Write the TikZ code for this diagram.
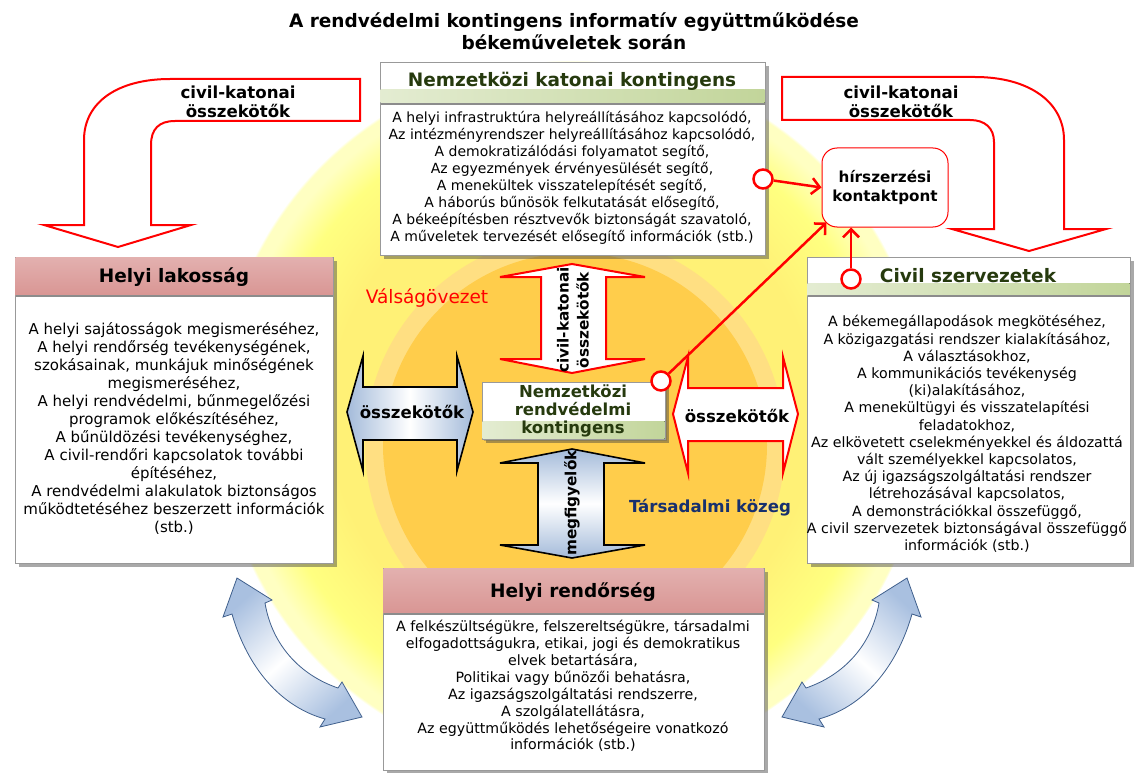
\documentclass[tikz,border=0pt]{standalone}
\usepackage{fontspec}
\setmainfont{DejaVu Sans}
\usetikzlibrary{shadows,arrows.meta}

\definecolor{redline}{HTML}{FF0000}
\definecolor{headgreen}{HTML}{C2D59A}
\definecolor{headpink}{HTML}{D99694}
\definecolor{textgreen}{HTML}{263A0E}
\definecolor{navytext}{HTML}{17306E}
\definecolor{arrowblue}{HTML}{A4BBDA}
\definecolor{curveblue}{HTML}{A9C0E0}
\definecolor{curveline}{HTML}{3F5F8C}
\definecolor{sunpale}{HTML}{FFFFC2}
\definecolor{sunlight}{HTML}{FFFF80}
\definecolor{sunyellow}{HTML}{FFF176}
\definecolor{sunring}{HTML}{FFDF82}
\definecolor{sunorange}{HTML}{FFCD4B}

\pgfdeclareradialshading{sunglow}{\pgfpoint{0bp}{0bp}}{%
  color(0bp)=(sunyellow); color(17bp)=(sunyellow); color(21.5bp)=(sunlight);
  color(24bp)=(sunpale); color(24.8bp)=(sunpale); color(25bp)=(white); color(50bp)=(white)}

\tikzset{
  panel/.style={draw=black!40, line width=0.8pt, fill=white,
    drop shadow={shadow xshift=4pt, shadow yshift=-4pt, fill=black!75, opacity=0.45}},
  greenband/.style={left color=headgreen!45!white, right color=headgreen},
  pinkband/.style={top color=headpink!75!white, bottom color=headpink},
  headtext/.style={font=\bfseries\fontsize{18.5}{21}\selectfont, inner sep=0pt},
  bodytext/.style={align=center, font=\fontsize{14}{17.1}\selectfont, inner sep=0pt},
  arrowtext/.style={align=center, font=\bfseries\fontsize{16.6}{19}\selectfont, inner sep=0pt},
  redarrow/.style={draw=redline, line width=2pt, fill=white, line join=miter},
  bluearrow/.style={draw=black, line width=1.6pt, line join=miter},
  curvearrow/.style={draw=curveline, line width=0.8pt},
  contact/.style={draw=redline, line width=1pt, fill=white, rounded corners=15pt,
    align=center, font=\bfseries\fontsize{15.2}{19}\selectfont},
  ring/.style={circle, draw=redline, line width=2.5pt, fill=white, minimum size=19pt, inner sep=0pt},
  redlink/.style={draw=redline, line width=2.5pt, -{Straight Barb[length=8pt,width=16pt]}}
}

\begin{document}
\begin{tikzpicture}[x=1pt, y=-1pt]
\useasboundingbox (0,0) rectangle (1135,773);

% glow behind the picture
\shade[shading=sunglow] (572,415) circle (355pt);
\fill[sunring] (575,445) circle (210pt);
\fill[sunorange] (575,445) circle (192pt);

% title
\node[align=center, font=\bfseries\fontsize{18.5}{22}\selectfont] (title) at (574,31)
  {A rendvédelmi kontingens informatív együttműködése\\békeműveletek során};

% bent arrows: civil-katonai összekötők
\draw[redarrow] (360,79) -- (170,79) .. controls (118,79) and (84,102) .. (84,140)
  -- (84,225) -- (44,225) -- (118,247) -- (191,225) -- (151,225) -- (151,145)
  .. controls (151,129) and (159,121) .. (175,121) -- (360,121) -- cycle;
\node[arrowtext] (cmleft) at (238,102) {civil-katonai\\összekötők};

\draw[redarrow] (782,77) -- (975,77) .. controls (1029,77) and (1064,102) .. (1064,140)
  -- (1064,229) -- (1106,229) -- (1029,251) -- (952,229) -- (994,229) -- (994,142)
  .. controls (994,128) and (985,120) .. (970,120) -- (782,120) -- cycle;
\node[arrowtext] (cmright) at (901,102) {civil-katonai\\összekötők};

% Nemzetközi katonai kontingens
\node[panel, minimum width=385pt, minimum height=193pt, anchor=north west] (katonai) at (380,62) {};
\fill[greenband] (380.5,90) rectangle (764.5,103);
\draw[black!45, line width=1.5pt] (380.5,104) -- (764.5,104);
\node[headtext, text=textgreen] (katonaihead) at (572,81) {Nemzetközi katonai kontingens};
\node[bodytext] (katonaitext) at (572,178) {A helyi infrastruktúra helyreállításához kapcsolódó,\\
  Az intézményrendszer helyreállításához kapcsolódó,\\
  A demokratizálódási folyamatot segítő,\\
  Az egyezmények érvényesülését segítő,\\
  A menekültek visszatelepítését segítő,\\
  A háborús bűnösök felkutatását elősegítő,\\
  A békeépítésben résztvevők biztonságát szavatoló,\\
  A műveletek tervezését elősegítő információk (stb.)};

% Helyi lakosság
\node[panel, minimum width=318pt, minimum height=306pt, anchor=north west] (lakos) at (15,257) {};
\fill[pinkband] (15.5,257.5) rectangle (332.5,295);
\draw[black!45, line width=1.5pt] (15.5,296) -- (332.5,296);
\node[headtext] (lakoshead) at (174,277) {Helyi lakosság};
\node[bodytext, font=\fontsize{15}{18}\selectfont] (lakostext) at (174,428) {A helyi sajátosságok megismeréséhez,\\
  A helyi rendőrség tevékenységének,\\
  szokásainak, munkájuk minőségének\\
  megismeréséhez,\\
  A helyi rendvédelmi, bűnmegelőzési\\
  programok előkészítéséhez,\\
  A bűnüldözési tevékenységhez,\\
  A civil-rendőri kapcsolatok további\\
  építéséhez,\\
  A rendvédelmi alakulatok biztonságos\\
  működtetéséhez beszerzett információk\\
  (stb.)};

% Civil szervezetek
\node[panel, minimum width=323pt, minimum height=306pt, anchor=north west] (civil) at (807,257) {};
\fill[greenband] (807.5,283) rectangle (1129.5,295);
\draw[black!45, line width=1.5pt] (807.5,296) -- (1129.5,296);
\node[headtext, text=textgreen] (civilhead) at (968,276) {Civil szervezetek};
\node[bodytext, font=\fontsize{14.2}{17.2}\selectfont] (civiltext) at (967,434) {A békemegállapodások megkötéséhez,\\
  A közigazgatási rendszer kialakításához,\\
  A választásokhoz,\\
  A kommunikációs tevékenység\\
  (ki)alakításához,\\
  A menekültügyi és visszatelapítési\\
  feladatokhoz,\\
  Az elkövetett cselekményekkel és áldozattá\\
  vált személyekkel kapcsolatos,\\
  Az új igazságszolgáltatási rendszer\\
  létrehozásával kapcsolatos,\\
  A demonstrációkkal összefüggő,\\
  A civil szervezetek biztonságával összefüggő\\
  információk (stb.)};

% Helyi rendőrség
\node[panel, minimum width=381pt, minimum height=202pt, anchor=north west] (rendor) at (383,568) {};
\fill[pinkband] (383.5,568.5) rectangle (763.5,613);
\draw[black!45, line width=1.5pt] (383.5,614) -- (763.5,614);
\node[headtext] (rendorhead) at (573,592) {Helyi rendőrség};
\node[bodytext, font=\fontsize{14.2}{16.9}\selectfont] (rendortext) at (573,686) {A felkészültségükre, felszereltségükre, társadalmi\\
  elfogadottságukra, etikai, jogi és demokratikus\\
  elvek betartására,\\
  Politikai vagy bűnözői behatásra,\\
  Az igazságszolgáltatási rendszerre,\\
  A szolgálatellátásra,\\
  Az együttműködés lehetőségeire vonatkozó\\
  információk (stb.)};

% double arrows round the centre
\draw[redarrow] (572,264) -- (645,277) -- (606,277) -- (606,359) -- (645,359) -- (572,373)
  -- (500,359) -- (541,359) -- (541,277) -- (500,277) -- cycle;
\node[arrowtext, rotate=90, font=\bfseries\fontsize{15.3}{20}\selectfont] (cmtop) at (573,320) {civil-katonai\\összekötők};

\draw[bluearrow, top color=arrowblue, bottom color=arrowblue, middle color=white]
  (572,449) -- (645,463) -- (604,463) -- (604,545) -- (645,545) -- (572,558)
  -- (500,545) -- (538,545) -- (538,463) -- (500,463) -- cycle;
\node[arrowtext, rotate=90, font=\bfseries\fontsize{15.3}{20}\selectfont] (figyelo) at (572,503) {megfigyelők};

\draw[bluearrow, left color=arrowblue, right color=arrowblue, middle color=white]
  (347,412) -- (363,356) -- (363,387) -- (457,387) -- (457,356) -- (473,412)
  -- (457,471) -- (457,440) -- (363,440) -- (363,471) -- cycle;
\node[arrowtext] (oleft) at (412,412) {összekötők};

\draw[redarrow] (673,414) -- (688,357) -- (688,388) -- (783,388) -- (783,357) -- (798,414)
  -- (783,473) -- (783,441) -- (688,441) -- (688,473) -- cycle;
\node[arrowtext] (oright) at (737,416) {összekötők};

% Nemzetközi rendvédelmi kontingens
\node[panel, drop shadow={shadow xshift=2pt, shadow yshift=-2pt, fill=black!60, opacity=0.4},
  minimum width=183pt, minimum height=57pt, anchor=north west] (rendved) at (482,382) {};
\fill[greenband] (482.5,421) rectangle (664.5,438.5);
\node[arrowtext, text=textgreen, font=\bfseries\fontsize{16.5}{18}\selectfont] (rendvedtext) at (573,411)
  {Nemzetközi\\rendvédelmi\\kontingens};

% zone labels
\node[text=redline, font=\fontsize{18.5}{20}\selectfont] (valsag) at (427,298) {Válságövezet};
\node[text=navytext, font=\bfseries\fontsize{16.6}{18}\selectfont] (kozeg) at (710,508) {Társadalmi közeg};

% curved arrows at the bottom
\draw[curvearrow, left color=curveblue, right color=curveblue, middle color=white, shading angle=42]
  (237,578) -- (272,600) -- (265,603) .. controls (272,645) and (300,675) .. (338,688)
  -- (342,682) -- (362,717) -- (320,727) -- (325,719) .. controls (275,705) and (245,660) .. (232,614)
  -- (223,617) -- cycle;
\draw[curvearrow, left color=curveblue, right color=curveblue, middle color=white, shading angle=-42]
  (907,578) -- (872,600) -- (879,603) .. controls (872,645) and (844,675) .. (806,688)
  -- (802,682) -- (782,717) -- (824,727) -- (819,719) .. controls (869,705) and (899,660) .. (912,614)
  -- (921,617) -- cycle;

% hírszerzési kontaktpont
\node[contact, minimum width=126pt, minimum height=79pt] (kontakt) at (885,187.5) {hírszerzési\\kontaktpont};
\node[ring] (ring1) at (763,179) {};
\node[ring] (ring2) at (851,279) {};
\node[ring] (ring3) at (661,381) {};
\draw[redlink] (ring1) -- (kontakt.west);
\draw[redlink] (ring2) -- (ring2 |- kontakt.south);
\draw[redlink] (ring3) -- ([shift={(5,-5)}]kontakt.south west);

\end{tikzpicture}
\end{document}
